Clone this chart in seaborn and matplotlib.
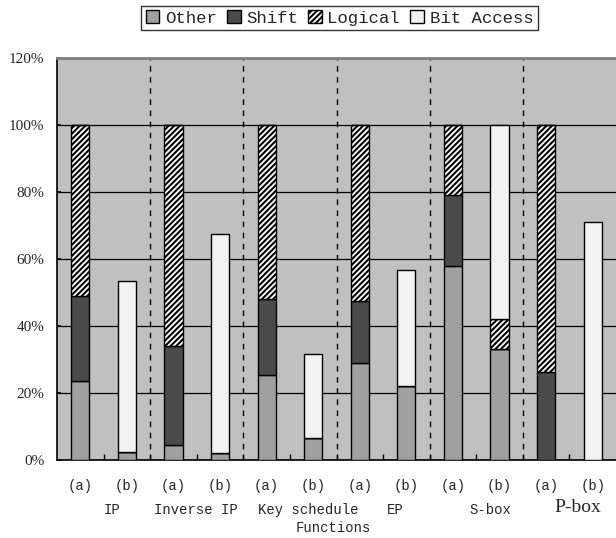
import matplotlib
matplotlib.use("Agg")
import matplotlib.pyplot as plt
import matplotlib.transforms as mtransforms
from matplotlib.patches import Patch
import seaborn as sns
import pandas as pd

# data (percent of cycles)
bars = ["IP a", "IP b", "InvIP a", "InvIP b", "Key a", "Key b",
        "EP a", "EP b", "Sbox a", "Sbox b", "Pbox a", "Pbox b"]
tick_labels = ["(a)", "(b)"] * 6
other = [23.6, 2.4, 4.5, 2.0, 25.4, 6.7, 29.0, 22.0, 58.0, 33.2, 0.0, 0.0]
shift = [25.4, 0.0, 29.5, 0.0, 22.6, 0.0, 18.5, 0.0, 21.0, 0.0, 26.4, 0.0]
logical = [51.0, 0.0, 66.0, 0.0, 52.0, 0.0, 52.5, 0.0, 21.0, 8.8, 73.6, 0.0]
bit_access = [0.0, 51.1, 0.0, 65.5, 0.0, 24.9, 0.0, 34.7, 0.0, 58.0, 0.0, 71.0]
series = ["Other", "Shift", "Logical", "Bit Access"]
group_labels = ["IP", "Inverse IP", "Key schedule", "Functions", "EP", "S-box", "P-box"]

df = pd.DataFrame({"bar": bars, "Other": other, "Shift": shift,
                   "Logical": logical, "Bit Access": bit_access})

sns.set_theme(style="ticks")
plt.rcParams["font.family"] = ["Liberation Mono", "DejaVu Sans Mono"]
plt.rcParams["hatch.linewidth"] = 1.5

fig = plt.figure(figsize=(6.16, 5.38), dpi=100)
ax = fig.add_axes([57 / 616, 78 / 538, 559 / 616, 402 / 538])
ax.set_facecolor("#c0c0c0")

styles = {
    "Other": dict(color="#a0a0a0"),
    "Shift": dict(color="#4a4a4a"),
    "Logical": dict(color="white", hatch="//////"),
    "Bit Access": dict(color="#f2f2f2"),
}

bottom = pd.Series([0.0] * len(df))
for s in series:
    sns.barplot(data=df, x="bar", y=s, bottom=bottom.values, width=0.39,
                edgecolor="black", linewidth=1.0, ax=ax, zorder=3,
                **styles[s])
    bottom = bottom + df[s]

ax.set_ylim(0, 120)
ax.set_xlim(-0.5, 11.5)
ax.set_yticks(range(0, 121, 20))
ax.set_yticklabels([f"{v}%" for v in range(0, 121, 20)],
                   family="Liberation Serif", fontsize=11)
ax.set_xticks(range(12))
ax.set_xticklabels(tick_labels, fontsize=10)
ax.set_xticks([i + 0.5 for i in range(11)], minor=True)
ax.tick_params(axis="x", which="major", length=0, pad=14)
ax.tick_params(axis="x", which="minor", direction="in", length=4, color="black")
ax.tick_params(axis="y", direction="in", length=3, color="black", pad=9)
ax.set_xlabel("")
ax.set_ylabel("")

ax.yaxis.grid(True, color="black", linewidth=0.9)
ax.set_axisbelow(True)
for xb in [1.5, 3.5, 5.5, 7.5, 9.5]:
    ax.axvline(xb, color="black", linestyle=(0, (4, 4)), linewidth=1.0, zorder=2)

ax.spines["right"].set_visible(False)
ax.spines["top"].set_color("#808080")
ax.spines["top"].set_linewidth(2)
ax.spines["left"].set_color("black")
ax.spines["bottom"].set_color("black")
ax.spines["left"].set_linewidth(1.2)
ax.spines["bottom"].set_linewidth(1.2)

# group labels under the (a)/(b) ticks
trans = mtransforms.blended_transform_factory(ax.transData, fig.transFigure)
ax.text(0.67, 0.052, group_labels[0], transform=trans, ha="center", va="center", fontsize=10)
ax.text(2.49, 0.052, group_labels[1], transform=trans, ha="center", va="center", fontsize=10)
ax.text(4.9, 0.052, group_labels[2], transform=trans, ha="center", va="center", fontsize=10)
ax.text(5.44, 0.018, group_labels[3], transform=trans, ha="center", va="center", fontsize=10)
ax.text(6.77, 0.052, group_labels[4], transform=trans, ha="center", va="center", fontsize=10)
ax.text(8.8, 0.052, group_labels[5], transform=trans, ha="center", va="center", fontsize=10)
ax.text(10.67, 0.056, group_labels[6], transform=trans, ha="center", va="center",
        fontsize=14, family="Liberation Serif")

handles = [Patch(facecolor=styles[s]["color"], hatch=styles[s].get("hatch"),
                 edgecolor="black", linewidth=1.0, label=s) for s in series]
leg = fig.legend(handles=handles, loc="center", bbox_to_anchor=(0.551, 0.967),
                 ncol=4, frameon=True, fancybox=False, fontsize=12.5,
                 handlelength=0.8, handleheight=0.8, handletextpad=0.3,
                 columnspacing=0.6, borderpad=0.25, borderaxespad=0)
leg.get_frame().set_edgecolor("black")
leg.get_frame().set_linewidth(1.0)

fig.savefig("out.png", dpi=100)
